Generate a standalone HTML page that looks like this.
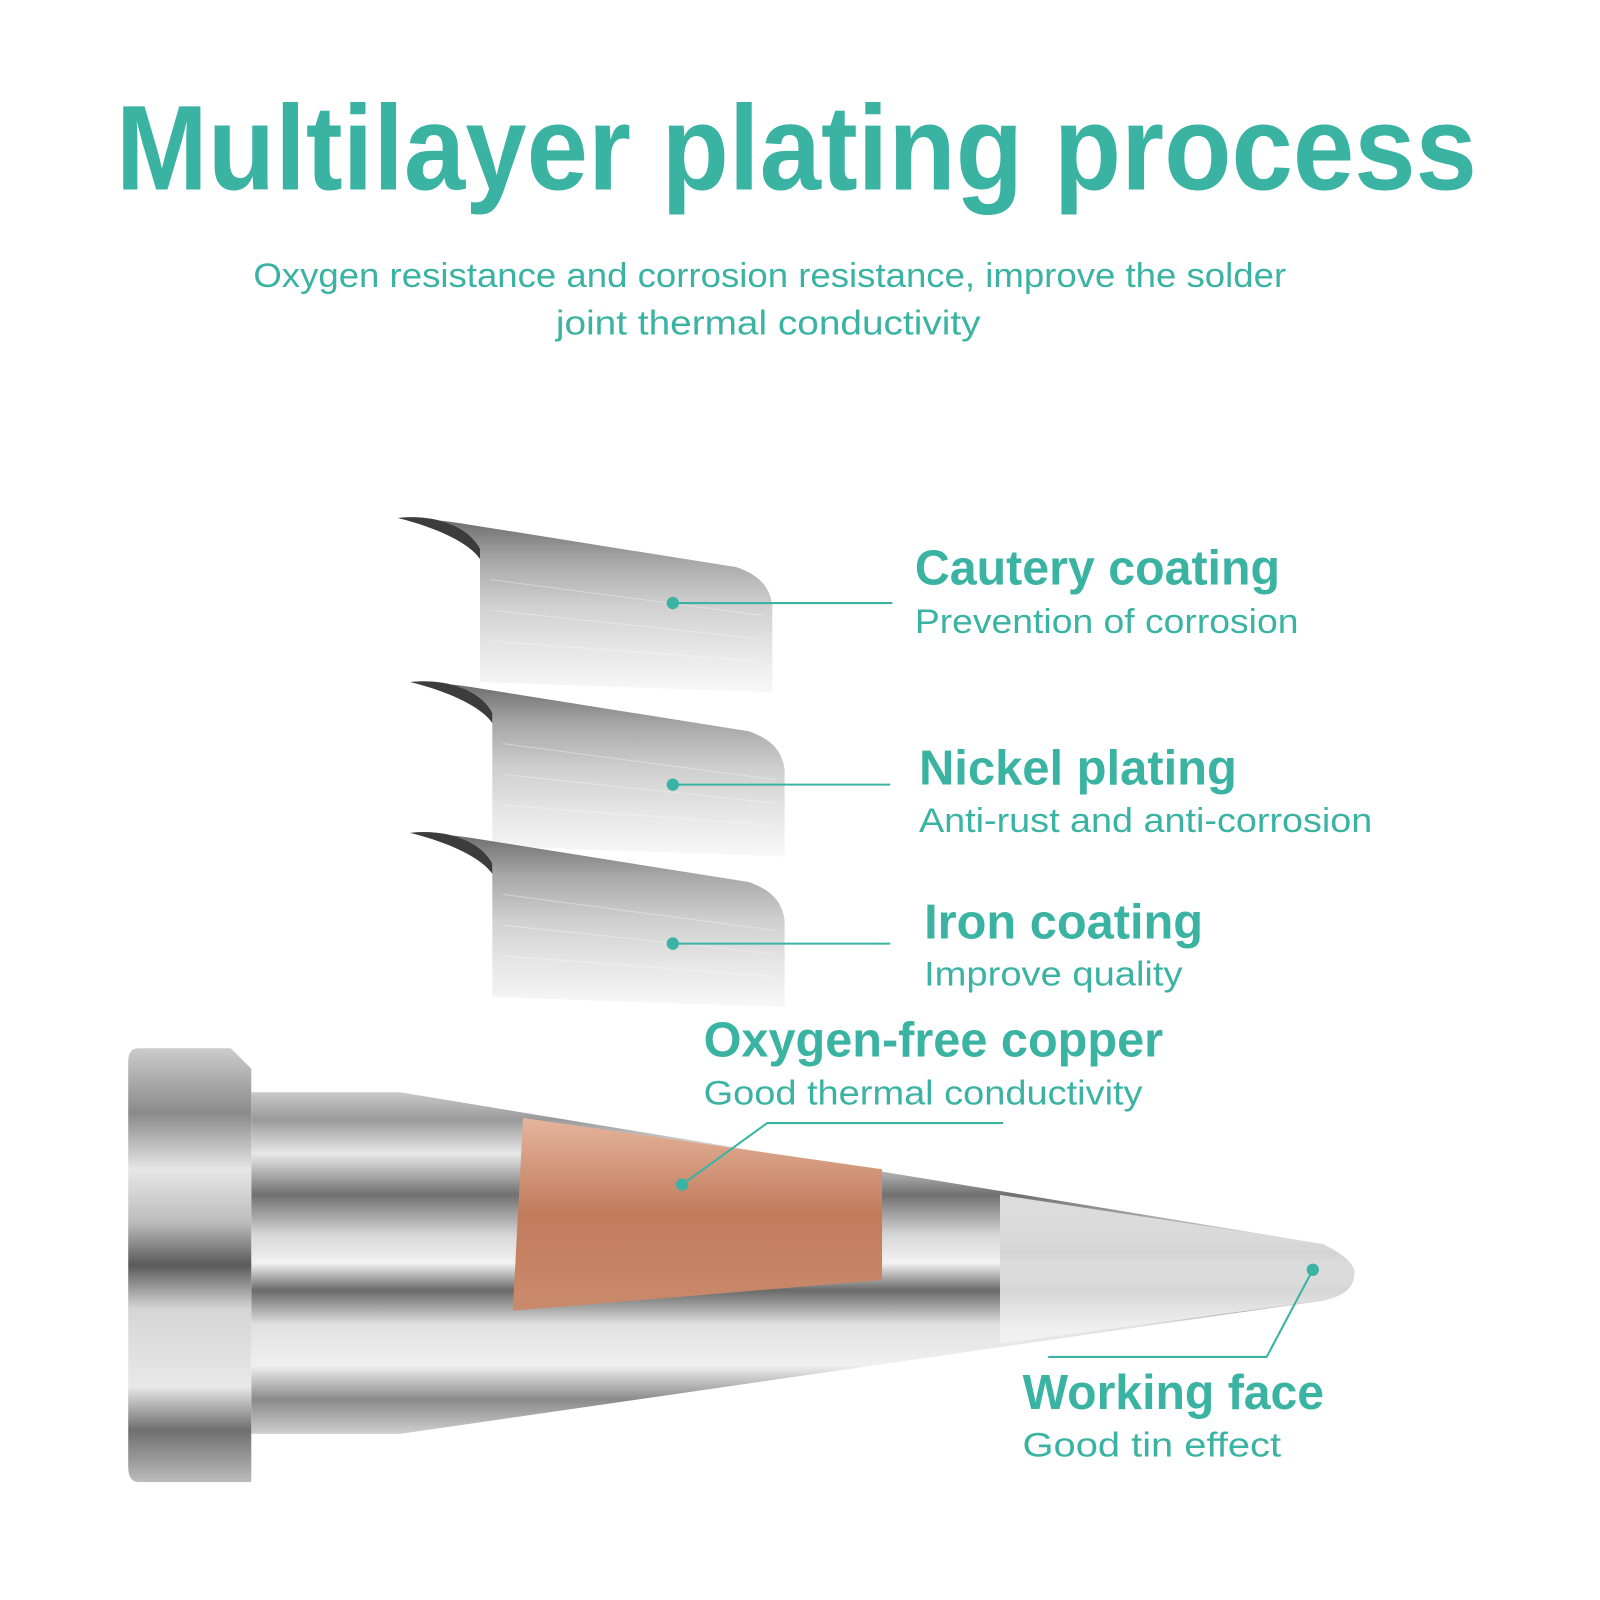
<!DOCTYPE html>
<html><head><meta charset="utf-8"><style>
html,body{margin:0;padding:0;background:#fff;}
svg{display:block}
text{font-family:"Liberation Sans",sans-serif;fill:#3bb3a3}
</style></head><body>
<svg width="1600" height="1600" viewBox="0 0 1560 1560" xmlns="http://www.w3.org/2000/svg">
<defs>
<linearGradient id="metal" x1="0" y1="0" x2="0" y2="1">
<stop offset="0" stop-color="#c9c9c9"/><stop offset="0.08" stop-color="#9a9a9a"/>
<stop offset="0.18" stop-color="#e8e8e8"/><stop offset="0.3" stop-color="#707070"/>
<stop offset="0.42" stop-color="#d8d8d8"/><stop offset="0.5" stop-color="#f2f2f2"/>
<stop offset="0.58" stop-color="#6a6a6a"/><stop offset="0.68" stop-color="#e0e0e0"/>
<stop offset="0.8" stop-color="#f0f0f0"/><stop offset="0.9" stop-color="#8a8a8a"/>
<stop offset="1" stop-color="#cfcfcf"/></linearGradient>
<linearGradient id="flange" x1="0" y1="0" x2="0" y2="1">
<stop offset="0" stop-color="#cccccc"/><stop offset="0.15" stop-color="#8a8a8a"/>
<stop offset="0.28" stop-color="#e6e6e6"/><stop offset="0.4" stop-color="#bdbdbd"/>
<stop offset="0.5" stop-color="#5a5a5a"/><stop offset="0.6" stop-color="#d5d5d5"/>
<stop offset="0.78" stop-color="#e8e8e8"/><stop offset="0.88" stop-color="#6e6e6e"/>
<stop offset="1" stop-color="#bbbbbb"/></linearGradient>
<linearGradient id="copper" x1="0" y1="0" x2="0" y2="1">
<stop offset="0" stop-color="#e6b49c"/><stop offset="0.5" stop-color="#c17c5c"/>
<stop offset="1" stop-color="#c98a6c"/></linearGradient>
<linearGradient id="tipw" x1="0" y1="0" x2="0" y2="1">
<stop offset="0" stop-color="#f0f0f0"/><stop offset="0.4" stop-color="#d0d0d0"/>
<stop offset="0.6" stop-color="#e8e8e8"/><stop offset="1" stop-color="#f4f4f4"/></linearGradient>
<linearGradient id="sheet" x1="0" y1="0" x2="0" y2="1">
<stop offset="0" stop-color="#6a6a6a"/><stop offset="0.25" stop-color="#a8a8a8"/>
<stop offset="0.5" stop-color="#cfcfcf"/><stop offset="0.75" stop-color="#e6e6e6"/>
<stop offset="1" stop-color="#f8f8f8"/></linearGradient>
<g id="sh">
<path d="M0,0 C40,-4 70,10 80,30 L80,160 L365,170 L365,85 C362,65 350,55 330,48 L60,5 C40,2 20,0 0,0 Z" fill="url(#sheet)"/>
<path d="M0,0 C40,-4 70,10 80,30 L80,40 C70,25 40,10 0,0Z" fill="#3c3c3c"/>
<g stroke="#ffffff" stroke-opacity="0.35" stroke-width="1">
<line x1="90" y1="60" x2="355" y2="95"/><line x1="90" y1="90" x2="355" y2="118"/>
<line x1="90" y1="120" x2="355" y2="140"/></g>
</g>
</defs>

<text x="113" y="185" font-size="118" font-weight="bold" textLength="1327" lengthAdjust="spacingAndGlyphs">Multilayer plating process</text>
<text x="247" y="280" font-size="33" textLength="1007" lengthAdjust="spacingAndGlyphs">Oxygen resistance and corrosion resistance, improve the solder</text>
<text x="542" y="326" font-size="33" textLength="414" lengthAdjust="spacingAndGlyphs">joint thermal conductivity</text>

<use href="#sh" x="388" y="505"/>
<use href="#sh" x="400" y="665"/>
<use href="#sh" x="400" y="812"/>

<g stroke="#3bb3a3" stroke-width="2" fill="none">
<line x1="656" y1="588" x2="870" y2="588"/>
<line x1="656" y1="765" x2="868" y2="765"/>
<line x1="656" y1="920" x2="868" y2="920"/>
</g>
<g fill="#3bb3a3"><circle cx="656" cy="588" r="6"/><circle cx="656" cy="765" r="6"/><circle cx="656" cy="920" r="6"/></g>

<text x="892" y="570" font-size="48" font-weight="bold" textLength="356" lengthAdjust="spacingAndGlyphs">Cautery coating</text>
<text x="892" y="617" font-size="33" textLength="374" lengthAdjust="spacingAndGlyphs">Prevention of corrosion</text>
<text x="896" y="765" font-size="48" font-weight="bold" textLength="310" lengthAdjust="spacingAndGlyphs">Nickel plating</text>
<text x="896" y="811" font-size="33" textLength="442" lengthAdjust="spacingAndGlyphs">Anti-rust and anti-corrosion</text>
<text x="901" y="915" font-size="48" font-weight="bold" textLength="272" lengthAdjust="spacingAndGlyphs">Iron coating</text>
<text x="901" y="961" font-size="33" textLength="252" lengthAdjust="spacingAndGlyphs">Improve quality</text>

<path d="M390,1065 L1290,1213 Q1325,1230 1320,1245 Q1318,1262 1290,1268 L390,1398 Z" fill="url(#metal)"/>
<path d="M975,1165 L1290,1213 Q1325,1230 1320,1245 Q1318,1262 1290,1268 L975,1310 Z" fill="url(#tipw)" opacity="0.85"/>
<path d="M245,1065 L390,1065 L390,1398 L245,1398 Z" fill="url(#metal)"/>
<path d="M135,1022 L225,1022 L245,1042 L245,1445 L135,1445 Q125,1445 125,1430 L125,1035 Q125,1022 135,1022Z" fill="url(#flange)"/>
<path d="M510,1090 L860,1140 L860,1248 L500,1278 Z" fill="url(#copper)"/>

<g stroke="#3bb3a3" stroke-width="2" fill="none">
<polyline points="665,1155 748,1095 978,1095"/>
<polyline points="1280,1238 1235,1323 1022,1323"/>
</g>
<g fill="#3bb3a3"><circle cx="665" cy="1155" r="6"/><circle cx="1280" cy="1238" r="6"/></g>

<text x="686" y="1030" font-size="48" font-weight="bold" textLength="448" lengthAdjust="spacingAndGlyphs">Oxygen-free copper</text>
<text x="686" y="1077" font-size="33" textLength="428" lengthAdjust="spacingAndGlyphs">Good thermal conductivity</text>
<text x="997" y="1374" font-size="48" font-weight="bold" textLength="294" lengthAdjust="spacingAndGlyphs">Working face</text>
<text x="997" y="1420" font-size="33" textLength="252" lengthAdjust="spacingAndGlyphs">Good tin effect</text>
</svg>
</body></html>
